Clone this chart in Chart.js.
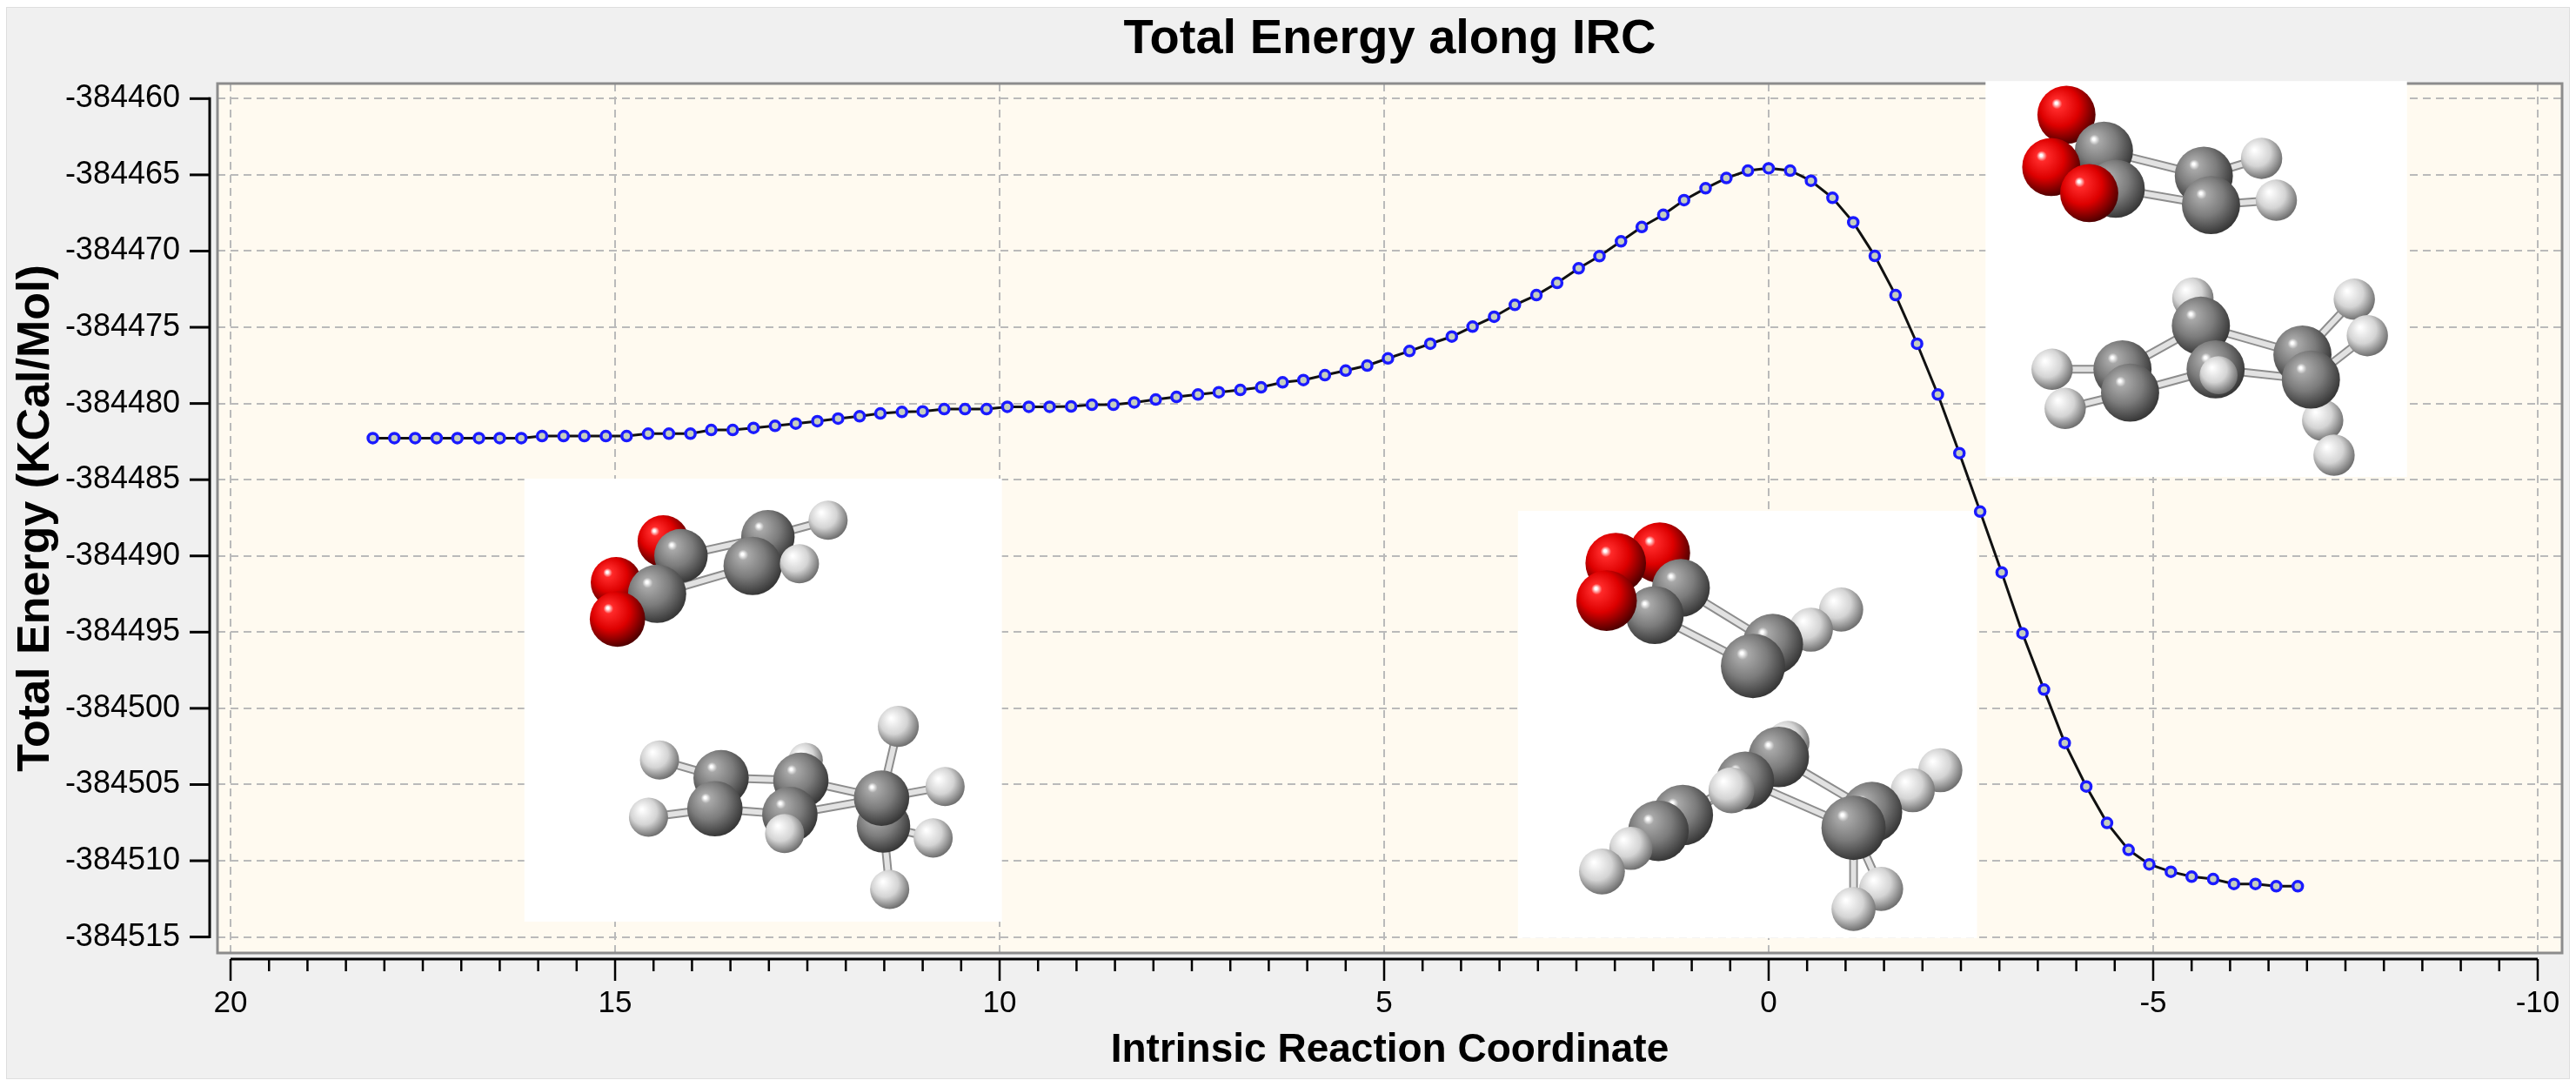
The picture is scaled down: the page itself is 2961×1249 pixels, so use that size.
<!DOCTYPE html>
<html>
<head>
<meta charset="utf-8">
<title>Total Energy along IRC</title>
<script src="https://cdn.jsdelivr.net/npm/chart.js@4.4.1/dist/chart.umd.min.js"></script>
<style>
    html, body { margin: 0; padding: 0; background: #ffffff; }
    #ircChart { display: block; }
</style>
</head>
<body>
<canvas id="ircChart" width="2961" height="1249"></canvas>
<script>
// IRC coordinate of every step (left to right)
var ircCoordinate = [
    18.15, 17.87, 17.60, 17.32, 17.05, 16.77, 16.50, 16.22, 15.95, 15.67,
    15.40, 15.12, 14.85, 14.57, 14.30, 14.02, 13.75, 13.47, 13.20, 12.92,
    12.65, 12.37, 12.10, 11.82, 11.55, 11.27, 11.00, 10.72, 10.45, 10.17,
    9.90, 9.62, 9.35, 9.07, 8.80, 8.52, 8.25, 7.97, 7.70, 7.42,
    7.15, 6.87, 6.60, 6.32, 6.05, 5.77, 5.50, 5.22, 4.95, 4.67,
    4.40, 4.12, 3.85, 3.57, 3.30, 3.02, 2.75, 2.47, 2.20, 1.92,
    1.65, 1.37, 1.10, 0.82, 0.55, 0.27, 0.00, -0.28, -0.55, -0.83,
    -1.10, -1.38, -1.65, -1.93, -2.20, -2.48, -2.75, -3.03, -3.30, -3.58,
    -3.85, -4.13, -4.40, -4.68, -4.95, -5.23, -5.50, -5.78, -6.05, -6.33,
    -6.60, -6.88
];

// total energy (KCal/Mol) at each step
var totalEnergy = [
    -384482.27, -384482.27, -384482.27, -384482.27, -384482.27, -384482.27, -384482.27, -384482.27, -384482.14, -384482.14,
    -384482.14, -384482.14, -384482.14, -384481.98, -384481.98, -384481.98, -384481.74, -384481.74, -384481.60, -384481.47,
    -384481.32, -384481.16, -384480.99, -384480.84, -384480.65, -384480.55, -384480.52, -384480.37, -384480.37, -384480.37,
    -384480.22, -384480.22, -384480.22, -384480.20, -384480.08, -384480.08, -384479.93, -384479.74, -384479.57, -384479.41,
    -384479.26, -384479.11, -384478.94, -384478.61, -384478.46, -384478.14, -384477.84, -384477.51, -384477.04, -384476.56,
    -384476.08, -384475.61, -384474.96, -384474.31, -384473.53, -384472.89, -384472.09, -384471.13, -384470.33, -384469.36,
    -384468.42, -384467.62, -384466.66, -384465.88, -384465.21, -384464.72, -384464.57, -384464.72, -384465.39, -384466.51,
    -384468.11, -384470.32, -384472.89, -384476.08, -384479.41, -384483.26, -384487.09, -384491.08, -384495.08, -384498.77,
    -384502.27, -384505.13, -384507.52, -384509.29, -384510.24, -384510.72, -384511.04, -384511.20, -384511.52, -384511.52,
    -384511.67, -384511.67
];

var xTickValues = [20, 15, 10, 5, 0, -5, -10];
var yTickValues = [-384460, -384465, -384470, -384475, -384480, -384485, -384490, -384495, -384500, -384505, -384510, -384515];

var FONT = "'Liberation Sans', Arial, sans-serif";

// structure snapshots pasted on the plot: box corners in axis units,
// atoms as [element, x, y, radius] in per-mille of the box
var snapshots = [
    {
        x0: 16.18, x1: 9.97, y0: -384484.93, y1: -384514.0,
        atoms: [
            ['O', 291, 141, 54], ['C', 510, 131, 56], ['H', 636, 94, 41], ['C', 328, 174, 56],
            ['O', 192, 234, 53], ['C', 478, 197, 61], ['H', 576, 192, 41], ['C', 278, 260, 61],
            ['O', 195, 317, 58], ['H', 589, 635, 36], ['H', 783, 559, 43], ['H', 283, 635, 41],
            ['C', 412, 675, 58], ['C', 579, 681, 58], ['C', 752, 784, 56], ['H', 881, 695, 41],
            ['H', 856, 811, 41], ['H', 260, 764, 41], ['C', 399, 745, 58], ['C', 556, 758, 58],
            ['C', 748, 721, 58], ['H', 545, 801, 41], ['H', 765, 927, 41]
        ],
        bonds: [[3, 1], [7, 5], [1, 2], [5, 6], [7, 4], [7, 8], [3, 0], [11, 12], [17, 18], [12, 13],
                [18, 19], [13, 20], [19, 20], [20, 10], [20, 15], [14, 16], [14, 22], [13, 9]]
    },
    {
        x0: 3.26, x1: -2.71, y0: -384487.05, y1: -384515.07,
        atoms: [
            ['O', 309, 98, 66], ['O', 213, 122, 66], ['C', 355, 180, 63], ['C', 298, 244, 63],
            ['O', 193, 210, 66], ['H', 704, 231, 48], ['H', 638, 278, 48], ['C', 555, 312, 66],
            ['C', 512, 363, 70], ['H', 588, 542, 47], ['C', 568, 576, 66], ['C', 495, 631, 63],
            ['H', 465, 654, 50], ['C', 359, 712, 66], ['C', 306, 749, 66], ['H', 246, 790, 47],
            ['H', 183, 844, 50], ['H', 920, 607, 48], ['H', 860, 654, 48], ['C', 771, 705, 66],
            ['C', 731, 742, 70], ['H', 791, 885, 48], ['H', 731, 932, 48]
        ],
        bonds: [[2, 7], [3, 8], [7, 5], [8, 6], [2, 0], [3, 4], [10, 19], [11, 20], [19, 17], [20, 18],
                [20, 21], [20, 22], [13, 15], [14, 16], [14, 11], [13, 10], [10, 9], [11, 12]]
    },
    {
        x0: -2.82, x1: -8.30, y0: -384458.85, y1: -384484.82,
        atoms: [
            ['O', 192, 85, 69], ['C', 281, 176, 69], ['C', 309, 272, 69], ['O', 156, 217, 69],
            ['O', 246, 283, 69], ['C', 518, 239, 69], ['H', 655, 195, 49], ['C', 535, 313, 69],
            ['H', 690, 301, 49], ['H', 492, 548, 49], ['C', 511, 618, 69], ['H', 158, 728, 49],
            ['H', 189, 827, 49], ['C', 325, 728, 69], ['C', 343, 787, 69], ['C', 546, 728, 69],
            ['H', 553, 743, 45], ['H', 875, 551, 49], ['H', 906, 643, 49], ['H', 800, 857, 49],
            ['C', 752, 691, 69], ['C', 772, 754, 69], ['H', 827, 945, 49]
        ],
        bonds: [[1, 5], [2, 7], [5, 6], [7, 8], [1, 0], [2, 3], [11, 13], [12, 14], [13, 10], [14, 15],
                [10, 20], [15, 21], [20, 17], [21, 18], [21, 19], [21, 22], [10, 9]]
    }
];

var IrcChart = {

    atomColors: {
        C: ['#a8a8a8', '#7c7c7c', '#383838'],
        O: ['#ff2a2a', '#dd0000', '#520000'],
        H: ['#f6f6f6', '#d4d4d4', '#707070']
    },

    DrawAtom: function (ctx, kind, cx, cy, r) {
        var c = IrcChart.atomColors[kind];
        var g = ctx.createRadialGradient(cx - r * 0.35, cy - r * 0.4, r * 0.04, cx - r * 0.15, cy - r * 0.2, r * 1.2);
        g.addColorStop(0, '#ffffff');
        g.addColorStop(0.12, c[0]);
        g.addColorStop(0.55, c[1]);
        g.addColorStop(1, c[2]);
        ctx.fillStyle = g;
        ctx.beginPath();
        ctx.arc(cx, cy, r, 0, Math.PI * 2);
        ctx.fill();
    },

    DrawSnapshot: function (ctx, chart, snap) {
        var xs = chart.scales.x, ys = chart.scales.y;
        var left = xs.getPixelForValue(snap.x0), right = xs.getPixelForValue(snap.x1);
        var top = ys.getPixelForValue(snap.y0), bottom = ys.getPixelForValue(snap.y1);
        var w = right - left, h = bottom - top;
        ctx.fillStyle = '#ffffff';
        ctx.fillRect(left, top, w, h);

        var pos = snap.atoms.map(function (a) {
            return { kind: a[0], x: left + a[1] / 1000 * w, y: top + a[2] / 1000 * h, r: a[3] / 1000 * w };
        });
        ctx.lineCap = 'round';
        snap.bonds.forEach(function (b) {
            var p = pos[b[0]], q = pos[b[1]];
            ctx.strokeStyle = '#8d8d8d';
            ctx.lineWidth = 10;
            ctx.beginPath(); ctx.moveTo(p.x, p.y); ctx.lineTo(q.x, q.y); ctx.stroke();
            ctx.strokeStyle = '#e2e2e2';
            ctx.lineWidth = 6;
            ctx.beginPath(); ctx.moveTo(p.x, p.y); ctx.lineTo(q.x, q.y); ctx.stroke();
        });
        pos.forEach(function (p) {
            IrcChart.DrawAtom(ctx, p.kind, p.x, p.y, p.r);
        });
    },

    decorPlugin: {
        id: 'ircDecor',
        beforeDraw: function (chart) {
            var ctx = chart.ctx, a = chart.chartArea;
            ctx.save();
            ctx.fillStyle = '#ffffff';
            ctx.fillRect(0, 0, chart.width, chart.height);
            ctx.fillStyle = '#f0f0f0';
            ctx.fillRect(7, 8, chart.width - 14, chart.height - 17);
            ctx.strokeStyle = '#dedede';
            ctx.lineWidth = 1;
            ctx.strokeRect(7.5, 8.5, chart.width - 15, chart.height - 18);
            ctx.fillStyle = '#fffaf0';
            ctx.fillRect(a.left, a.top, a.right - a.left, a.bottom - a.top);
            ctx.restore();
        },
        beforeDatasetsDraw: function (chart) {
            var ctx = chart.ctx, a = chart.chartArea;
            ctx.save();
            ctx.strokeStyle = '#8c8c8c';
            ctx.lineWidth = 3;
            ctx.strokeRect(a.left, a.top, a.right - a.left, a.bottom - a.top);
            snapshots.forEach(function (s) { IrcChart.DrawSnapshot(ctx, chart, s); });
            ctx.restore();
        },
        afterDraw: function (chart) {
            var ctx = chart.ctx, a = chart.chartArea;
            var xs = chart.scales.x, ys = chart.scales.y;
            ctx.save();
            ctx.strokeStyle = '#000000';
            ctx.lineCap = 'butt';

            // y axis, set off from the plot frame
            var ax = a.left - 9;
            ctx.lineWidth = 3;
            ctx.beginPath();
            ctx.moveTo(ax, ys.getPixelForValue(yTickValues[0]) - 1.5);
            ctx.lineTo(ax, ys.getPixelForValue(yTickValues[yTickValues.length - 1]) + 1.5);
            ctx.stroke();
            yTickValues.forEach(function (v) {
                var py = ys.getPixelForValue(v);
                ctx.beginPath(); ctx.moveTo(ax - 23, py); ctx.lineTo(ax, py); ctx.stroke();
            });

            // x axis with minor ticks every 0.5
            var ay = a.bottom + 7;
            ctx.beginPath();
            ctx.moveTo(xs.getPixelForValue(20), ay);
            ctx.lineTo(xs.getPixelForValue(-10), ay);
            ctx.stroke();
            ctx.lineWidth = 2.5;
            for (var k = -20; k <= 40; k++) {
                var px = xs.getPixelForValue(k / 2);
                var len = (k % 10 === 0) ? 25 : 14;
                ctx.beginPath(); ctx.moveTo(px, ay); ctx.lineTo(px, ay + len); ctx.stroke();
            }
            ctx.restore();
        }
    },

    DrawLineChart: function (chartId) {
        var canvas = document.getElementById(chartId).getContext('2d');
        var points = ircCoordinate.map(function (c, i) { return { x: c, y: totalEnergy[i] }; });

        var gridOpts = { color: '#bababa', lineWidth: 2, drawTicks: false };
        var borderOpts = { display: false, dash: [9, 6] };

        return new Chart(canvas, {
            type: 'line',
            data: {
                datasets: [{
                    label: 'Total Energy',
                    data: points,
                    borderColor: '#111111',
                    borderWidth: 3,
                    tension: 0,
                    fill: false,
                    pointStyle: 'circle',
                    pointRadius: 5.5,
                    pointBorderWidth: 3.5,
                    pointBorderColor: '#1a1aff',
                    pointBackgroundColor: '#c5cebf'
                }]
            },
            options: {
                responsive: false,
                devicePixelRatio: 1,
                animation: false,
                events: [],
                layout: { padding: { left: 0, right: 16, top: 0, bottom: 0 } },
                plugins: {
                    legend: { display: false },
                    tooltip: { enabled: false },
                    title: {
                        display: true,
                        text: 'Total Energy along IRC',
                        fullSize: false,
                        color: '#000000',
                        font: { family: FONT, size: 56, weight: 'bold', lineHeight: 1.2 },
                        padding: { top: 12, bottom: 16.8 }
                    }
                },
                scales: {
                    x: {
                        type: 'linear',
                        reverse: true,
                        min: -10.317,
                        max: 20.17,
                        afterBuildTicks: function (scale) {
                            scale.ticks = xTickValues.map(function (v) { return { value: v }; });
                        },
                        afterFit: function (scale) {
                            scale.height = 154;
                            scale.paddingLeft = 0;
                            scale.paddingRight = 0;
                        },
                        grid: gridOpts,
                        border: borderOpts,
                        ticks: {
                            autoSkip: false,
                            maxRotation: 0,
                            padding: 37,
                            color: '#000000',
                            font: { family: FONT, size: 35 },
                            callback: function (v) { return String(v); }
                        },
                        title: {
                            display: true,
                            text: 'Intrinsic Reaction Coordinate',
                            color: '#000000',
                            font: { family: FONT, size: 46, weight: 'bold', lineHeight: 1.2 },
                            padding: { top: 0, bottom: 14.4 }
                        }
                    },
                    y: {
                        type: 'linear',
                        min: -384516.05,
                        max: -384459.01,
                        afterBuildTicks: function (scale) {
                            scale.ticks = yTickValues.map(function (v) { return { value: v }; });
                        },
                        afterFit: function (scale) {
                            scale.width = 250;
                            scale.paddingTop = 0;
                            scale.paddingBottom = 0;
                        },
                        grid: gridOpts,
                        border: borderOpts,
                        ticks: {
                            autoSkip: false,
                            padding: 43,
                            color: '#000000',
                            font: { family: FONT, size: 36 },
                            callback: function (v) { return String(v); }
                        },
                        title: {
                            display: true,
                            text: 'Total Energy (KCal/Mol)',
                            color: '#000000',
                            font: { family: FONT, size: 52, weight: 'bold', lineHeight: 1.2 },
                            padding: { top: 10.8, bottom: 0 }
                        }
                    }
                }
            },
            plugins: [IrcChart.decorPlugin]
        });
    }
};

IrcChart.DrawLineChart('ircChart');
</script>
</body>
</html>
